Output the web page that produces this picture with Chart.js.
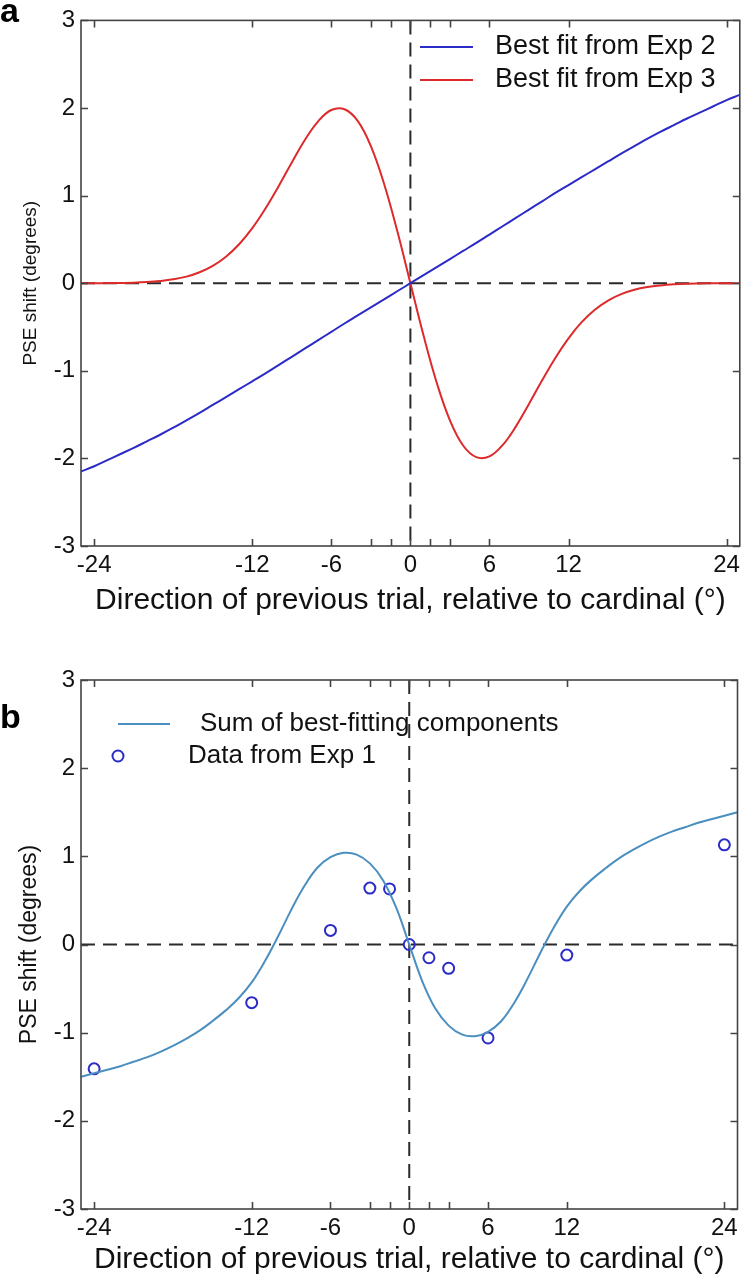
<!DOCTYPE html>
<html>
<head>
<meta charset="utf-8">
<script src="https://cdn.jsdelivr.net/npm/chart.js@4.4.1/dist/chart.umd.min.js"></script>
<style>
  html, body { margin:0; padding:0; background:#fff; }
  .panel { position:absolute; left:0; width:745px; height:640px; }
</style>
</head>
<body>
<div class="panel" style="top:0"><canvas id="chartA" width="745" height="640"></canvas></div>
<div class="panel" style="top:640px"><canvas id="chartB" width="745" height="640"></canvas></div>
<script>
// ---------- DATA ----------
const xTickValues = [-24, -12, -6, -3, -1.5, 0, 1.5, 3, 6, 12, 24];
const xTickLabels = [-24, -12, -6, 0, 6, 12, 24];
const yTickValues = [-3, -2, -1, 0, 1, 2, 3];

// Panel a: fitted curves (read at each degree)
const curveX = [-25,-24,-23,-22,-21,-20,-19,-18,-17,-16,-15,-14,-13,-12,-11,-10,-9,-8,-7,-6,-5,-4,-3,-2,-1,0,
                1,2,3,4,5,6,7,8,9,10,11,12,13,14,15,16,17,18,19,20,21,22,23,24,25];
const exp2Fit = [-2.15,-2.09,-2.02,-1.95,-1.88,-1.805,-1.73,-1.65,-1.565,-1.48,-1.39,-1.30,-1.21,-1.12,-1.03,-0.935,-0.84,-0.745,-0.65,-0.555,-0.46,-0.368,-0.276,-0.184,-0.092,0,
                 0.092,0.184,0.276,0.368,0.46,0.555,0.65,0.745,0.84,0.935,1.03,1.12,1.21,1.30,1.39,1.48,1.565,1.65,1.73,1.805,1.88,1.95,2.02,2.09,2.15];
const exp3Fit = [0,0,0.001,0.003,0.006,0.013,0.025,0.044,0.075,0.125,0.198,0.303,0.445,0.629,0.853,1.108,1.378,1.637,1.848,1.977,1.986,1.853,1.565,1.136,0.598,0,
                 -0.598,-1.136,-1.565,-1.853,-1.986,-1.977,-1.848,-1.637,-1.378,-1.108,-0.853,-0.629,-0.445,-0.303,-0.198,-0.125,-0.075,-0.044,-0.025,-0.013,-0.006,-0.003,-0.001,0,0];

// Panel b: summed fit and data
const sumFit = [-1.50,-1.46,-1.42,-1.38,-1.33,-1.28,-1.22,-1.15,-1.07,-0.98,-0.87,-0.75,-0.61,-0.43,-0.19,0.09,0.39,0.66,0.87,0.99,1.04,1.02,0.92,0.73,0.42,0,
                -0.42,-0.73,-0.92,-1.02,-1.04,-0.99,-0.87,-0.66,-0.39,-0.09,0.19,0.43,0.61,0.75,0.87,0.98,1.07,1.15,1.22,1.28,1.33,1.38,1.42,1.46,1.50];
const dataX = [-24, -12, -6, -3, -1.5, 0, 1.5, 3, 6, 12, 24];
const dataY = [-1.41, -0.66, 0.16, 0.64, 0.63, 0, -0.15, -0.27, -1.06, -0.12, 1.13];

// ---------- STYLE ----------
const FONT = "'Liberation Sans', Arial, Helvetica, sans-serif";
const INK = '#111';
const BLUE = '#2b2bc8';
const RED = '#dd2a2a';
const TEAL = '#4a8fc0';

const pts = (xs, ys) => xs.map((x, i) => ({x, y: ys[i]}));

const framePlugin = {
  id: 'frameTicks',
  beforeDatasetsDraw(chart) {
    const {ctx, chartArea: {left, right, top, bottom}, scales: {x, y}} = chart;
    const x0 = x.getPixelForValue(0), y0 = y.getPixelForValue(0);
    ctx.save();
    ctx.strokeStyle = '#2a2a2a';
    ctx.lineWidth = 2;
    ctx.setLineDash([14, 8]);
    ctx.beginPath(); ctx.moveTo(left, y0); ctx.lineTo(right, y0); ctx.stroke();
    ctx.beginPath(); ctx.moveTo(x0, top); ctx.lineTo(x0, bottom); ctx.stroke();
    ctx.restore();
  },
  afterDatasetsDraw(chart, args, opts) {
    const {ctx, chartArea: {left, right, top, bottom}, scales: {x, y}} = chart;
    ctx.save();
    ctx.strokeStyle = '#444';
    ctx.lineWidth = 1.6;
    ctx.setLineDash([]);
    ctx.strokeRect(left, top, right - left, bottom - top);
    const L = 7;
    ctx.beginPath();
    x.ticks.forEach(t => {
      const px = Math.round(x.getPixelForValue(t.value)) + 0.5;
      ctx.moveTo(px, bottom); ctx.lineTo(px, bottom - L);
      ctx.moveTo(px, top); ctx.lineTo(px, top + L);
    });
    y.ticks.forEach(t => {
      const py = Math.round(y.getPixelForValue(t.value)) + 0.5;
      ctx.moveTo(left, py); ctx.lineTo(left + L, py);
      ctx.moveTo(right, py); ctx.lineTo(right - L, py);
    });
    ctx.stroke();
    // panel letter
    ctx.fillStyle = '#000';
    ctx.font = 'bold 34px ' + FONT;
    ctx.textBaseline = 'alphabetic';
    ctx.textAlign = 'left';
    ctx.fillText(opts.letter, opts.letterX, opts.letterY);
    // legend
    ctx.font = opts.legendSize + 'px ' + FONT;
    ctx.textBaseline = 'middle';
    opts.legend.forEach(item => {
      const ds = chart.data.datasets[item.ds];
      ctx.fillStyle = INK;
      ctx.fillText(ds.label, item.tx, item.y);
      ctx.strokeStyle = ds.borderColor;
      ctx.lineWidth = 2;
      ctx.beginPath();
      if (item.kind === 'line') {
        ctx.moveTo(item.x1, item.y); ctx.lineTo(item.x2, item.y);
      } else {
        ctx.arc(item.cx, item.y, 5.5, 0, Math.PI * 2);
      }
      ctx.stroke();
    });
    ctx.restore();
  }
};

function makeOptions(c) {
  return {
    responsive: false,
    animation: false,
    events: [],
    layout: {padding: {top: c.padTop, right: 2, left: 0, bottom: 0}},
    plugins: {
      legend: {display: false},
      tooltip: {enabled: false},
      frameTicks: c.frame
    },
    elements: {line: {tension: 0.4}},
    scales: {
      x: {
        type: 'linear', min: -25, max: 25,
        afterBuildTicks: s => { s.ticks = xTickValues.map(v => ({value: v})); },
        afterFit: s => { s.height = c.xHeight; },
        grid: {display: false, drawTicks: false},
        border: {display: false},
        ticks: {
          autoSkip: false, maxRotation: 0, padding: c.xTickPad, color: INK,
          font: {family: FONT, size: 24},
          callback: v => xTickLabels.includes(v) ? String(v) : ''
        },
        title: {
          display: true, text: 'Direction of previous trial, relative to cardinal (°)',
          color: INK, font: {family: FONT, size: 30},
          padding: {top: 0, bottom: c.xTitlePad}
        }
      },
      y: {
        type: 'linear', min: -3, max: 3,
        afterBuildTicks: s => { s.ticks = yTickValues.map(v => ({value: v})); },
        afterFit: s => { s.width = 81; },
        grid: {display: false, drawTicks: false},
        border: {display: false},
        ticks: {padding: 6, color: INK, font: {family: FONT, size: 24}},
        title: {
          display: true, text: 'PSE shift (degrees)', color: INK,
          font: {family: FONT, size: c.yTitleSize},
          padding: {top: c.yTitlePad, bottom: 0}
        }
      }
    }
  };
}

new Chart(document.getElementById('chartA'), {
  type: 'scatter',
  data: {
    datasets: [
      {label: 'Best fit from Exp 2', data: pts(curveX, exp2Fit), showLine: true, borderColor: BLUE,
       borderWidth: 2, pointRadius: 0},
      {label: 'Best fit from Exp 3', data: pts(curveX, exp3Fit), showLine: true, borderColor: RED,
       borderWidth: 2, pointRadius: 0}
    ]
  },
  options: makeOptions({
    padTop: 20, xHeight: 94, xTickPad: 5, xTitlePad: 21, yTitleSize: 19, yTitlePad: 19,
    frame: {
      letter: 'a', letterX: 0, letterY: 22, legendSize: 27,
      legend: [
        {ds: 0, kind: 'line', x1: 420, x2: 473, tx: 495, y: 47},
        {ds: 1, kind: 'line', x1: 420, x2: 473, tx: 495, y: 80}
      ]
    }
  }),
  plugins: [framePlugin]
});

new Chart(document.getElementById('chartB'), {
  type: 'scatter',
  data: {
    datasets: [
      {label: 'Sum of best-fitting components', data: pts(curveX, sumFit), showLine: true, borderColor: TEAL,
       borderWidth: 2, pointRadius: 0},
      {label: 'Data from Exp 1', data: pts(dataX, dataY), showLine: false, borderColor: BLUE,
       backgroundColor: 'rgba(0,0,0,0)', borderWidth: 2, pointRadius: 5.5, pointStyle: 'circle'}
    ]
  },
  options: makeOptions({
    padTop: 40, xHeight: 71, xTickPad: 5, xTitlePad: 2, yTitleSize: 23, yTitlePad: 16,
    frame: {
      letter: 'b', letterX: 0, letterY: 88, legendSize: 26,
      legend: [
        {ds: 0, kind: 'line', x1: 118, x2: 170, tx: 200, y: 84},
        {ds: 1, kind: 'marker', cx: 118, tx: 188, y: 116}
      ]
    }
  }),
  plugins: [framePlugin]
});
</script>
</body>
</html>
